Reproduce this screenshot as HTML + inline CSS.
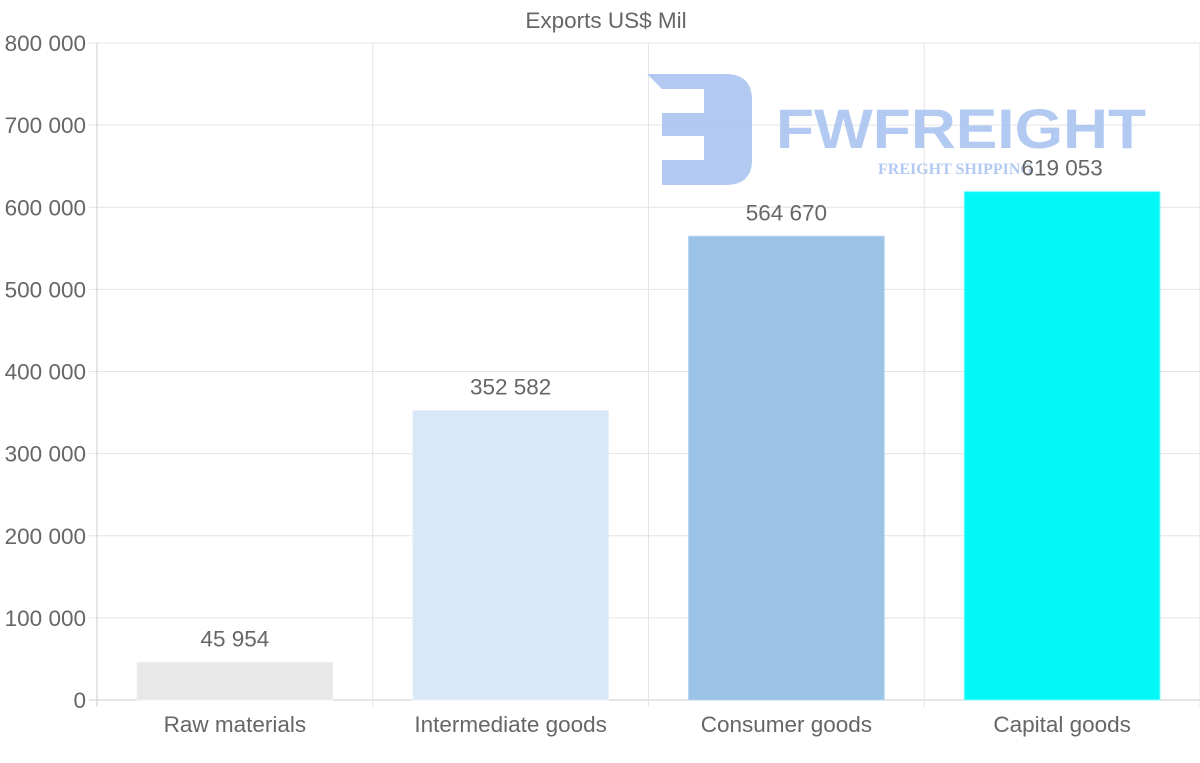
<!DOCTYPE html>
<html><head><meta charset="utf-8"><style>
html,body{margin:0;padding:0;background:#fff;}
svg{display:block;font-family:"Liberation Sans",sans-serif;}
</style></head><body>
<svg id="chart" width="1200" height="763" viewBox="0 0 1200 763">
<text x="606" y="28" text-anchor="middle" font-size="22.5" fill="#666">Exports US$ Mil</text>
<g id="grid"></g>
<g id="logo" opacity="0.9">
 <path d="M647 74 H725 Q752 74 752 100 V160 Q752 185 725 185 H662 V160 H704 V136 H662 V113 H704 V89 H662 Z" fill="#aac4f0"/>
 <text x="776" y="148" font-size="56" font-weight="bold" fill="#aac4f0" textLength="370" lengthAdjust="spacingAndGlyphs">FWFREIGHT</text>
 <text x="878" y="174" font-size="16" font-weight="bold" font-family="Liberation Serif,serif" fill="#aac4f0">FREIGHT SHIPPING</text>
</g>
<g id="bars"></g>
</svg>
<script>
const categories=["Raw materials","Intermediate goods","Consumer goods","Capital goods"];
const values=[45954,352582,564670,619053];
const valueLabels=["45 954","352 582","564 670","619 053"];
const yTicks=[0,100000,200000,300000,400000,500000,600000,700000,800000];
const yTickLabels=["0","100 000","200 000","300 000","400 000","500 000","600 000","700 000","800 000"];
const colors=["#e8e8e8","#d9e8f9","#9bc3e7","#03f7f7"];
const strokes=["#f0f0f0","#e6f0fb","#b5d3ef","#7ffbfb"];
const NS="http://www.w3.org/2000/svg";
const L=97,R=1200,T=43,B=700,MAX=800000;
const FS=22.5;
const y=v=>B-(v/MAX)*(B-T);
const cw=(R-L)/categories.length;
const x=i=>L+i*cw;
function mk(tag,attrs,parent,text){const e=document.createElementNS(NS,tag);for(const k in attrs)e.setAttribute(k,attrs[k]);if(text!==undefined)e.textContent=text;parent.appendChild(e);return e;}
const grid=document.getElementById('grid'),bars=document.getElementById('bars');
yTicks.forEach((t,i)=>{
 const ln=mk('line',{x1:89,x2:R,y1:y(t),y2:y(t),stroke:t===0?'#ccc':'#e4e4e4','stroke-width':1},grid);
 
 
 const tx=mk('text',{x:86,y:y(t)+8,'text-anchor':'end','font-size':FS,fill:'#666'},grid,yTickLabels[i]);
 
 
});
for(let i=0;i<=categories.length;i++){
 const ln=mk('line',{x1:x(i),x2:x(i),y1:T,y2:707,stroke:i===0?'#ccc':'#e4e4e4','stroke-width':1},grid);
 
 
}
categories.forEach((c,i)=>{
 const bx=x(i)+40,bw=cw-80;
 const r=mk('rect',{x:bx,y:y(values[i]),width:bw,height:B-y(values[i]),fill:colors[i],stroke:strokes[i],'stroke-width':1},bars);
 
 
 const vl=mk('text',{x:x(i)+cw/2,y:y(values[i])-16,'text-anchor':'middle','font-size':FS,fill:'#666'},bars,valueLabels[i]);
 
 
 const cl=mk('text',{x:x(i)+cw/2,y:732,'text-anchor':'middle','font-size':FS,fill:'#666'},bars,c);
 
 
});
</script>
</body></html>
